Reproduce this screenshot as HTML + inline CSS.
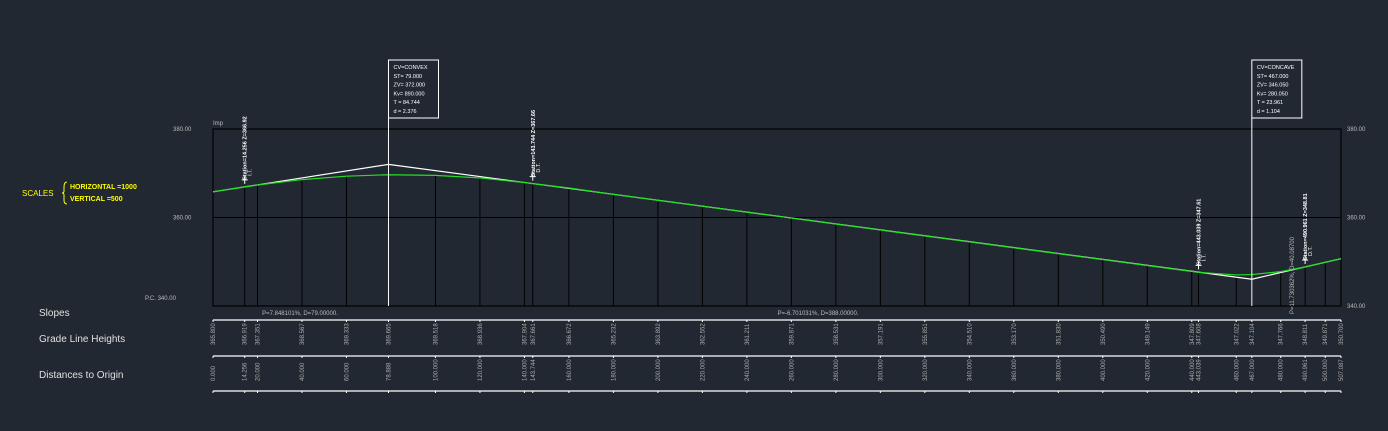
<!DOCTYPE html>
<html><head><meta charset="utf-8"><style>
html,body{margin:0;padding:0;background:#222831;}
svg{display:block;font-family:"Liberation Sans",sans-serif;}
</style></head><body>
<svg id="c" width="1388" height="431" viewBox="0 0 1388 431">
<rect width="1388" height="431" fill="#222831"/>
<g fill="#ffff00" font-size="7" font-weight="bold">
<text x="22" y="196" font-size="8" font-weight="normal">SCALES</text>
<path d="M67,182 Q64,182 64,187 L64,191 Q64,193 62,193 Q64,193 64,195 L64,200 Q64,204 67,204" fill="none" stroke="#ffff00" stroke-width="1"/>
<text x="70" y="189">HORIZONTAL  =1000</text>
<text x="70" y="201">VERTICAL      =500</text>
</g>
<g fill="#e0e0e0" font-size="10">
<text x="39" y="316">Slopes</text>
<text x="39" y="342">Grade Line Heights</text>
<text x="39" y="378">Distances to Origin</text>
</g>
<g id="plot"></g>
</svg>
<script>
const stations=[0,14.256,20,40,60,78.888,100,120,140,143.744,160,180,200,220,240,260,280,300,320,340,360,380,400,420,440,443.039,460,467,480,490.961,500,507.087];
const gradeHeights=[365.800,366.919,367.351,368.567,369.333,369.665,369.518,368.936,367.904,367.661,366.672,365.232,363.892,362.552,361.211,359.871,358.531,357.191,355.851,354.510,353.170,351.830,350.490,349.149,347.809,347.608,347.022,347.104,347.766,348.811,349.871,350.700];
const pviStations=[0,78.888,467,507.087];
const pviElev=[365.8,372.0,346.05,350.7];
const yTicks=[380,360,340];
const slopeLabels=["P=7.848101%, D=79.00000.","P=-6.701031%, D=388.00000.","P=11.730362%, D=40.08700"];
const curveBoxes=[["CV=CONVEX","ST= 79.000","ZV= 372.000","Kv= 890.000","T = 84.744","d = 2.376"],["CV=CONCAVE","ST= 467.000","ZV= 346.050","Kv= 280.050","T = 23.961","d = 1.104"]];
const markerStations=[14.256,143.744,443.039,490.961];
const markerText=["Station=14.256 Z=366.92","Station=143.744 Z=367.66","Station=443.039 Z=347.61","Station=490.961 Z=348.81"];

const X0=213,X1=1341,SMAX=507.087,YT=129,YB=306;
const sx=s=>X0+(s/SMAX)*(X1-X0);
const sy=z=>YT+(380-z)/40*(YB-YT);
const NS='http://www.w3.org/2000/svg';
const g=document.getElementById('plot');
function mk(t,a,p){const e=document.createElementNS(NS,t);for(const k in a)e.setAttribute(k,a[k]);(p||g).appendChild(e);return e;}

// frame
const fr=mk('rect',{x:X0,y:YT,width:X1-X0,height:YB-YT,fill:'none',stroke:'#000',"stroke-width":1.2});


const mid=mk('line',{x1:X0,x2:X1,y1:sy(360),y2:sy(360),stroke:'#000',"stroke-width":1});


yTicks.forEach((v,i)=>{
  const t=mk('text',{x:X1+6,y:sy(v)+2,fill:'#bbb',"font-size":6});t.textContent=v.toFixed(2);
  
  
  const l=mk('text',{x:i==2?145:173,y:sy(v)+(i==2?-6:2),fill:'#bbb',"font-size":6});l.textContent=(i==2?'P.C. ':'')+v.toFixed(2);
  
  
});
const imp=mk('text',{x:213,y:125,fill:'#bbb',"font-size":6});imp.textContent='Imp';



// station verticals
stations.forEach((s,i)=>{
  const l=mk('line',{x1:sx(s),x2:sx(s),y1:YB,y2:sy(gradeHeights[i]),stroke:'#000',"stroke-width":1});
  
  
});
// table lines
[320,356,391].forEach(y=>{
  const l=mk('line',{x1:X0,x2:X1,y1:y,y2:y,stroke:'#fff',"stroke-width":1.2});
  
  
  stations.forEach(s=>{const t=mk('line',{x1:sx(s),x2:sx(s),y1:y,y2:y+2,stroke:'#fff',"stroke-width":1});
    
    });
});
// tangent (white) line
const tp=mk('polyline',{points:pviStations.map((s,i)=>sx(s)+','+sy(pviElev[i])).join(' '),fill:'none',stroke:'#fff',"stroke-width":1.2});


// grade (green)
const gp=mk('polyline',{points:stations.map((s,i)=>sx(s)+','+sy(gradeHeights[i])).join(' '),fill:'none',stroke:'#22e022',"stroke-width":1.2});



// table text
stations.forEach((s,i)=>{
  const x=sx(s)+2;
  const a=mk('text',{x:0,y:0,fill:'#aaa',"font-size":6,transform:`translate(${x},345) rotate(-90)`});a.textContent=gradeHeights[i].toFixed(3);
  
  
  const b=mk('text',{x:0,y:0,fill:'#aaa',"font-size":6,transform:`translate(${x},381) rotate(-90)`});b.textContent=s.toFixed(3);
  
  
});
// slope labels
[[300,315],[818,315]].forEach((p,i)=>{const t=mk('text',{x:p[0],y:p[1],fill:'#bbb',"font-size":6,"text-anchor":"middle"});t.textContent=slopeLabels[i];
  
  });
const s3=mk('text',{x:0,y:0,fill:'#bbb',"font-size":6,transform:'translate(1294,314) rotate(-90)'});s3.textContent=slopeLabels[2];



// curve boxes
[78.888,467].forEach((s,i)=>{
  const x=sx(s);
  const l=mk('line',{x1:x,x2:x,y1:118,y2:YB,stroke:'#fff',"stroke-width":1});
  
  
  const r=mk('rect',{x:x,y:60,width:50,height:58,fill:'#222831',stroke:'#fff',"stroke-width":1});
  
  
  curveBoxes[i].forEach((tx,j)=>{const t=mk('text',{x:x+5,y:69+j*8.8,fill:'#fff',"font-size":5.5});t.textContent=tx;
    
    });
});
// markers
markerStations.forEach((s,i)=>{
  const x=sx(s);const yb=sy(gradeHeights[stations.indexOf(s)])-3;
  const t=mk('text',{x:0,y:0,fill:'#fff',"font-size":5.5,"font-weight":"bold",transform:`translate(${x+2},${yb-4}) rotate(-90)`});t.textContent=markerText[i];
  
  
  const c=mk('path',{d:`M${x-3},${yb-4}h6M${x},${yb-8}v8`,stroke:'#fff',"stroke-width":1});
  
  
  const u=mk('text',{x:0,y:0,fill:'#fff',"font-size":5.5,transform:`translate(${x+7},${yb-8}) rotate(-90)`});u.textContent=i%2?'D.T.':'I.T.';
  
  
});
</script>
</body></html>
